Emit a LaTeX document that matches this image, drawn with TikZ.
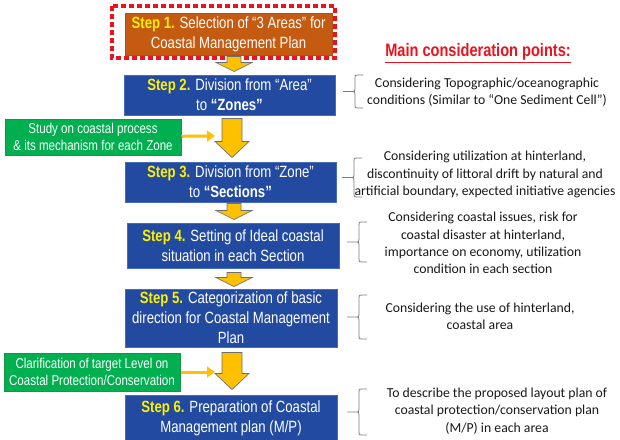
\documentclass[tikz,border=0pt]{standalone}
\usepackage{fontspec}
\setmainfont{Liberation Sans}[FakeStretch=0.81]
\newfontfamily\notefont{Carlito}
\usetikzlibrary{arrows.meta,calc}

\definecolor{stepblue}{RGB}{33,74,160}
\definecolor{stepedge}{RGB}{70,108,182}
\definecolor{steporange}{RGB}{197,90,17}
\definecolor{orangeedge}{RGB}{175,80,20}
\definecolor{studygreen}{RGB}{0,176,80}
\definecolor{studyedge}{RGB}{20,150,70}
\definecolor{arrowyellow}{RGB}{255,192,0}
\definecolor{arrowedge}{RGB}{110,110,120}
\definecolor{labelyellow}{RGB}{255,240,0}
\definecolor{framered}{RGB}{235,20,30}
\definecolor{bracegray}{RGB}{125,125,125}
\definecolor{notegray}{RGB}{25,25,25}

\newcommand{\stepno}[1]{{\bfseries\color{labelyellow}#1}}

\tikzset{every picture/.style={line width=0.75pt}}
\tikzset{
	stepbox/.style={draw=stepedge, fill=stepblue, text=white, align=center, inner sep=0.75pt,
		font=\fontsize{12.2}{15}\selectfont},
	firstbox/.style={stepbox, draw=orangeedge, fill=steporange},
	studybox/.style={draw=studyedge, fill=studygreen, text=white, align=center, inner sep=0.75pt,
		font=\fontsize{10.7}{12.75}\selectfont},
	notetext/.style={align=center, text=notegray, inner sep=0.75pt,
		font=\notefont\fontsize{10.3}{13}\selectfont},
	blockarrow/.style n args={3}{draw=arrowedge, fill=arrowyellow, line width=0.5pt,
		to path={($(\tikztostart)+(-#1,0)$) -- ($(\tikztostart)+(#1,0)$)
			-- ($(\tikztostart |- \tikztotarget)+(#1,-#3)$) -- ($(\tikztostart |- \tikztotarget)+(#2,-#3)$)
			-- (\tikztostart |- \tikztotarget)
			-- ($(\tikztostart |- \tikztotarget)+(-#2,-#3)$) -- ($(\tikztostart |- \tikztotarget)+(-#1,-#3)$) -- cycle}},
	bigarrow/.style={blockarrow={10}{17}{16}},
	smallarrow/.style={blockarrow={7}{18}{9}},
	feedarrow/.style={draw=arrowyellow, line width=2.25pt, -{Triangle[length=6pt,width=8pt]}},
	redframe/.style={draw=framered, line width=2.6pt, dash pattern=on 3.4pt off 2.6pt},
	bracestyle/.style={draw=bracegray, line width=0.6pt},
	% brace opens to the right, drawn downwards from the pic origin
	pics/leftbrace/.style={code={
		\draw [bracestyle] (20,0) -- (15,0) .. controls (12,0) .. (12,-3) -- (12,{-#1/2+3}) .. controls (12,{-#1/2}) .. (8,{-#1/2}) -- (0,{-#1/2})
			(8,{-#1/2}) .. controls (12,{-#1/2}) .. (12,{-#1/2-3}) -- (12,{-#1+3}) .. controls (12,-#1) .. (15,-#1) -- (20,-#1);
	}}
}

\begin{document}
\begin{tikzpicture}[x=0.75pt,y=0.75pt,yscale=-1,xscale=1]
	\path [use as bounding box, fill=white] (0,0) rectangle (620,439);
	
	%Shape: Rectangle (steps)
	\draw (228.5,34) node [firstbox, minimum width=155.25pt, minimum height=31.5pt] (s1) {\stepno{Step 1.} Selection of “3 Areas” for\\Coastal Management Plan};
	\draw (229.5,95) node [stepbox, minimum width=158.25pt, minimum height=30pt] (s2) {\stepno{Step 2.} Division from “Area”\\to {\bfseries “Zones”}};
	\draw (230.5,182) node [stepbox, minimum width=158.25pt, minimum height=30pt] (s3) {\stepno{Step 3.} Division from “Zone”\\to {\bfseries “Sections”}};
	\draw (233,245.5) node [stepbox, minimum width=159pt, minimum height=33.75pt] (s4) {\stepno{Step 4.} Setting of Ideal coastal\\situation in each Section};
	\draw (231,318) node [stepbox, minimum width=159pt, minimum height=43.5pt] (s5) {\stepno{Step 5.} Categorization of basic\\direction for Coastal Management\\Plan};
	\draw (231,418) node [stepbox, minimum width=159pt, minimum height=34.5pt] (s6) {\stepno{Step 6.} Preparation of Coastal\\Management plan (M/P)};
	
	%Shape: Rectangle (dotted frame)
	\draw [redframe] (112,6) rectangle (335,58);
	
	%Shape: Rectangle (studies)
	\draw (93,137) node [studybox, minimum width=132pt, minimum height=27pt] (g1) {Study on coastal process\\\& its mechanism for each Zone};
	\draw (92,372) node [studybox, minimum width=132pt, minimum height=28.5pt] (g2) {Clarification of target Level on\\Coastal Protection/Conservation};
	
	%Block Arrows
	\coordinate (a12s) at ($(s1.south)+(5.5,1)$);
	\coordinate (a12e) at ($(s2.north)+(4.5,-3)$);
	\coordinate (a23s) at ($(s2.south)+(2.5,3)$);
	\coordinate (a23e) at ($(s3.north)+(1.5,-4)$);
	\coordinate (a34s) at ($(s3.south)+(3.5,1)$);
	\coordinate (a34e) at ($(s4.north)+(1,-3)$);
	\coordinate (a45s) at ($(s4.south)+(1,4)$);
	\coordinate (a45e) at ($(s5.north)+(3,-2)$);
	\coordinate (a56s) at ($(s5.south)+(1,5)$);
	\coordinate (a56e) at ($(s6.north)+(1,-5)$);
	\draw [smallarrow] (a12s) to (a12e);
	\draw [bigarrow] (a23s) to (a23e);
	\draw [smallarrow] (a34s) to (a34e);
	\draw [smallarrow] (a45s) to (a45e);
	\draw [bigarrow] (a56s) to (a56e);
	
	%Straight Lines
	\coordinate (g1e) at (215,136);
	\coordinate (g2e) at (215,372);
	\draw [feedarrow] (g1) -- (g1e);
	\draw [feedarrow] (g2) -- (g2e);
	
	% Text Node
	\draw (478,53) node [inner sep=0.75pt, text=framered, font=\bfseries\fontsize{13.5}{15}\selectfont] (head) {\underline{Main consideration points:}};
	
	%Braces
	\pic at (343,75) {leftbrace=33};
	\pic at (342,158) {leftbrace=39};
	\pic at (347,222) {leftbrace=40};
	\pic at (347,295) {leftbrace=44};
	\pic at (347,389) {leftbrace=46};
	
	% Text Node
	\draw (487,92.5) node [notetext] (p1) {Considering Topographic/oceanographic\\conditions (Similar to “One Sediment Cell”)};
	% Text Node
	\draw (485,174.5) node [notetext] (p2) {Considering utilization at hinterland,\\discontinuity of littoral drift by natural and\\artificial boundary, expected initiative agencies};
	% Text Node
	\draw (483,243) node [notetext] (p3) {Considering coastal issues, risk for\\coastal disaster at hinterland,\\importance on economy, utilization\\condition in each section};
	% Text Node
	\draw (480,316) node [notetext] (p4) {Considering the use of hinterland,\\coastal area};
	% Text Node
	\draw (497,411) node [notetext] (p5) {To describe the proposed layout plan of\\coastal protection/conservation plan\\(M/P) in each area};
	
\end{tikzpicture}
\end{document}
